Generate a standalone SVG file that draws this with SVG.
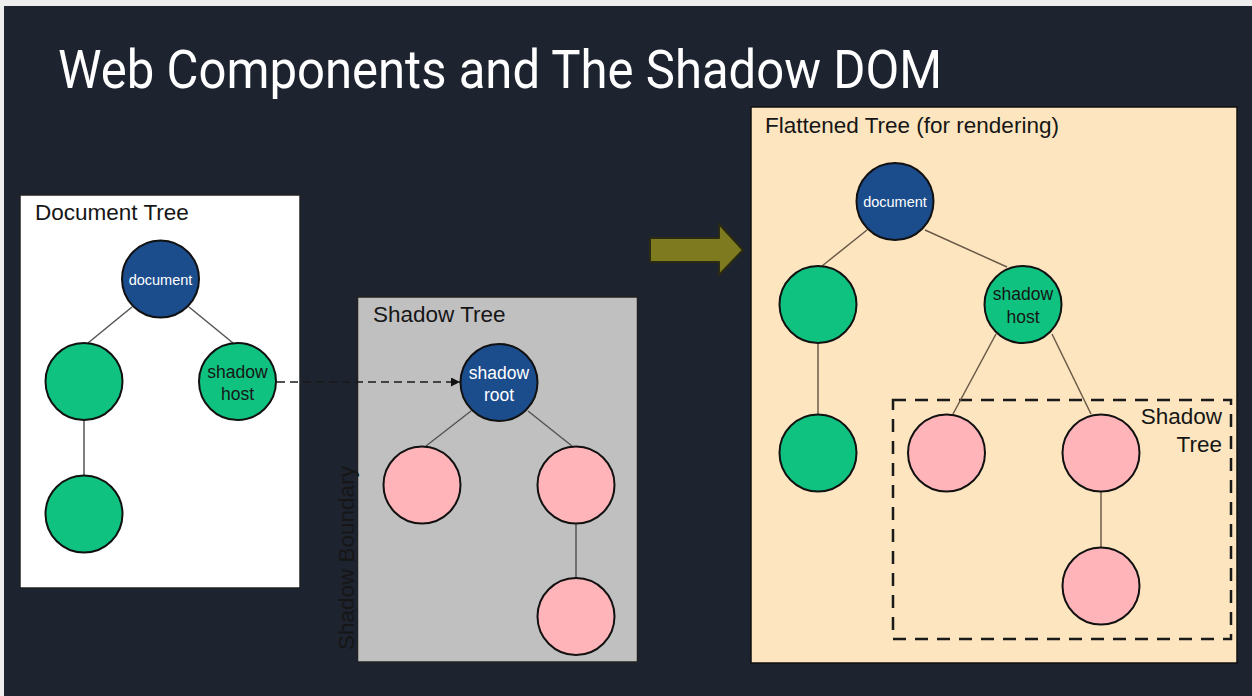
<svg xmlns="http://www.w3.org/2000/svg" width="1252" height="696" viewBox="0 0 1252 696">
<defs>
<style>
.lbl{font-family:"Liberation Sans",Arial,sans-serif;font-size:22.5px;fill:#161616}
.nt{font-family:"Liberation Sans",Arial,sans-serif;text-anchor:middle}
.blue{fill:#1b4c8c;stroke:#111;stroke-width:2}
.green{fill:#10c27f;stroke:#111;stroke-width:2}
.pink{fill:#ffb4ba;stroke:#111;stroke-width:2}
.edge{stroke:#555;stroke-width:1.5;fill:none}
.edgeF{stroke:#6a5a48;stroke-width:1.5;fill:none}
</style>
<marker id="ah" viewBox="0 0 10 10" refX="10" refY="5" markerWidth="9" markerHeight="9" markerUnits="userSpaceOnUse" orient="auto">
<path d="M0,0 L10,5 L0,10 z" fill="#111"/>
</marker>
</defs>
<rect x="0" y="0" width="1252" height="696" fill="#eeeeee"/>
<rect x="4" y="6" width="1248" height="690" fill="#1e2330"/>
<text x="58" y="88" font-family="Roboto,'Liberation Sans',sans-serif" font-size="54" fill="#ffffff" textLength="884" lengthAdjust="spacingAndGlyphs">Web Components and The Shadow DOM</text>

<g id="docTreeBox">
<rect x="20" y="195" width="280" height="393" fill="#ffffff" stroke="#222" stroke-width="1.5"/>
<text class="lbl" x="35" y="220">Document Tree</text>
</g>
<g id="shadowTreeBox">
<rect x="357.5" y="297" width="280" height="365" fill="#c0c0c1" stroke="#222" stroke-width="1.5"/>
<text class="lbl" x="373" y="322">Shadow Tree</text>
</g>
<g id="shadowBoundary">
<text class="lbl" transform="translate(354,650) rotate(-90)" fill="#1a1a1a">Shadow Boundary</text>
</g>
<g id="flatTreeBox">
<rect x="751" y="107" width="486" height="556" fill="#fde5bf" stroke="#111" stroke-width="1.5"/>
<text class="lbl" x="765" y="133">Flattened Tree (for rendering)</text>
</g>
<g id="flatShadowRegion">
<rect x="893" y="400" width="338" height="239" fill="none" stroke="#1a1a1a" stroke-width="2.5" stroke-dasharray="13 9"/>
<text class="lbl" x="1222" y="424" text-anchor="end">Shadow</text>
<text class="lbl" x="1222" y="452" text-anchor="end">Tree</text>
</g>

<g id="bigArrow">
<polygon points="650,238 719,238 719,224 743,250 719,275 719,262 650,262" fill="#7e7a1f" stroke="#2b2a12" stroke-width="2" stroke-linejoin="round"/>
</g>

<g id="connectors">
<line class="edge" x1="132" y1="307" x2="88" y2="343"/>
<line class="edge" x1="189" y1="307" x2="233" y2="343"/>
<line class="edge" x1="84" y1="421" x2="84" y2="475"/>
<line class="edge" x1="471" y1="411" x2="426" y2="446"/>
<line class="edge" x1="528" y1="411" x2="572" y2="446"/>
<line class="edge" x1="576" y1="524" x2="576" y2="578"/>
<line x1="277" y1="382" x2="460" y2="382" stroke="#1a1a1a" stroke-width="1.5" stroke-dasharray="8 5" marker-end="url(#ah)"/>
<line class="edgeF" x1="867" y1="230" x2="822" y2="266"/>
<line class="edgeF" x1="925" y1="230" x2="1007" y2="267"/>
<line class="edgeF" x1="818" y1="344" x2="818" y2="414"/>
<line class="edgeF" x1="996" y1="334" x2="953" y2="414"/>
<line class="edgeF" x1="1052" y1="334" x2="1091" y2="414"/>
<line class="edgeF" x1="1101" y1="492" x2="1101" y2="547"/>
</g>

<g id="d-document"><circle class="blue" cx="160.5" cy="279" r="38.5"/><text class="nt" x="160.5" y="284.5" font-size="14.5" fill="#fff">document</text></g>
<g id="d-left"><circle class="green" cx="84" cy="381.5" r="38.5"/></g>
<g id="d-host"><circle class="green" cx="237.5" cy="381.5" r="38.5"/><text class="nt" x="237.5" y="378" font-size="17.5" fill="#161616">shadow</text><text class="nt" x="237.5" y="400" font-size="17.5" fill="#161616">host</text></g>
<g id="d-leftchild"><circle class="green" cx="84" cy="514" r="38.5"/></g>

<g id="s-root"><circle class="blue" cx="499" cy="382.5" r="38.5"/><text class="nt" x="499" y="379" font-size="17.5" fill="#fff">shadow</text><text class="nt" x="499" y="400.5" font-size="17.5" fill="#fff">root</text></g>
<g id="s-left"><circle class="pink" cx="422" cy="485" r="38.5"/></g>
<g id="s-right"><circle class="pink" cx="576" cy="485" r="38.5"/></g>
<g id="s-rightchild"><circle class="pink" cx="576" cy="616.5" r="38.5"/></g>

<g id="f-document"><circle class="blue" cx="895" cy="201.5" r="38.5"/><text class="nt" x="895" y="207" font-size="14.5" fill="#fff">document</text></g>
<g id="f-left"><circle class="green" cx="818" cy="304.5" r="38.5"/></g>
<g id="f-host"><circle class="green" cx="1023" cy="304.5" r="38.5"/><text class="nt" x="1023" y="300" font-size="17.5" fill="#161616">shadow</text><text class="nt" x="1023" y="323" font-size="17.5" fill="#161616">host</text></g>
<g id="f-leftchild"><circle class="green" cx="818" cy="453" r="38.5"/></g>
<g id="f-pleft"><circle class="pink" cx="946.5" cy="453" r="38.5"/></g>
<g id="f-pright"><circle class="pink" cx="1101" cy="453" r="38.5"/></g>
<g id="f-prightchild"><circle class="pink" cx="1101" cy="586" r="38.5"/></g>
</svg>
